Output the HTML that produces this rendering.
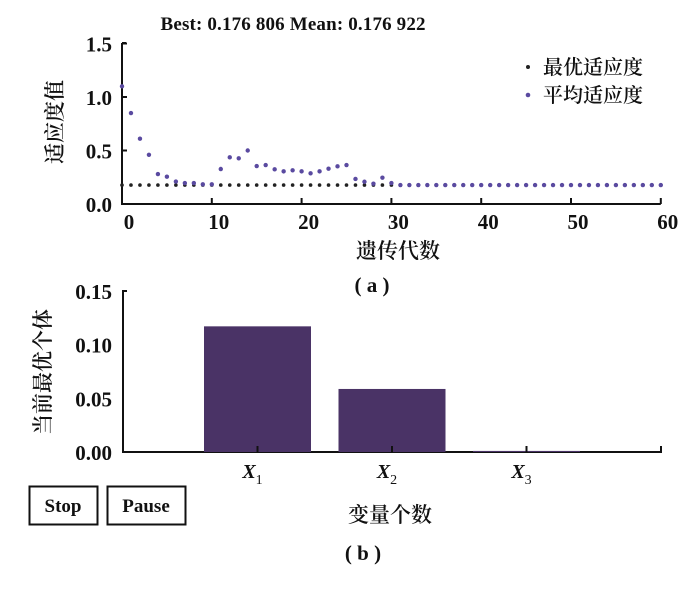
<!DOCTYPE html>
<html><head><meta charset="utf-8"><style>
body{margin:0;background:#fff}
text{font-family:"Liberation Serif","Noto Serif CJK SC",serif;fill:#111}
.cjk{font-weight:600}
</style></head><body>
<svg id="c" width="700" height="589" viewBox="0 0 700 589" xmlns="http://www.w3.org/2000/svg">
<text x="293" y="30" font-size="19" font-weight="bold" text-anchor="middle" textLength="265">Best: 0.176 806 Mean: 0.176 922</text>
<g id="gtop"></g>
<g id="gbot"></g>
<text class="cjk" x="398" y="258" font-size="21" text-anchor="middle">遗传代数</text>
<text x="372" y="292" font-size="21" font-weight="bold" text-anchor="middle">( a )</text>
<text class="cjk" transform="translate(62,122) rotate(-90)" font-size="21" text-anchor="middle">适应度值</text>
<text class="cjk" transform="translate(50,372) rotate(-90)" font-size="21" text-anchor="middle">当前最优个体</text>
<text class="cjk" x="390" y="522" font-size="21" text-anchor="middle">变量个数</text>
<text x="363" y="560" font-size="21" font-weight="bold" text-anchor="middle">( b )</text>
<g><rect x="29.5" y="486.5" width="68" height="38" fill="#fff" stroke="#111" stroke-width="2"/><text x="63" y="512" font-size="19" font-weight="bold" text-anchor="middle">Stop</text></g>
<g><rect x="107.5" y="486.5" width="78" height="38" fill="#fff" stroke="#111" stroke-width="2"/><text x="146" y="512" font-size="19" font-weight="bold" text-anchor="middle">Pause</text></g>
<g>
<circle cx="528" cy="67" r="2" fill="#222"/><text class="cjk" x="543" y="74" font-size="20">最优适应度</text>
<circle cx="528" cy="95" r="2.3" fill="#5a4aa0"/><text class="cjk" x="543" y="102" font-size="20">平均适应度</text>
</g>
</svg>
<script>
const generations=[];for(let i=0;i<=60;i++)generations.push(i);
const meanFitness=[1.10,0.85,0.61,0.46,0.28,0.255,0.21,0.196,0.196,0.184,0.184,0.327,0.436,0.427,0.50,0.355,0.364,0.324,0.305,0.315,0.305,0.287,0.305,0.33,0.352,0.364,0.234,0.208,0.19,0.246,0.196,0.177,0.177,0.177,0.177,0.177,0.177,0.177,0.177,0.177,0.177,0.177,0.177,0.177,0.177,0.177,0.177,0.177,0.177,0.177,0.177,0.177,0.177,0.177,0.177,0.177,0.177,0.177,0.177,0.177,0.177];
const bestFitness=generations.map(()=>0.1768);
const xTicksA=[0,10,20,30,40,50,60];
const yTicksA=[0,0.5,1.0,1.5];
const yLabelsA=['0.0','0.5','1.0','1.5'];
const barCats=['X1','X2','X3'];
const barValues=[0.117,0.0587,0.001];
const yTicksB=[0,0.05,0.10,0.15];
const yLabelsB=['0.00','0.05','0.10','0.15'];
const NS='http://www.w3.org/2000/svg';
function mk(p,t,a){const e=document.createElementNS(NS,t);for(const k in a)e.setAttribute(k,a[k]);p.appendChild(e);return e;}
const gTop=document.getElementById('gtop'),gBot=document.getElementById('gbot');
const xA=v=>122+v*8.98, yA=v=>204-v*107;
let e=mk(gTop,'path',{d:`M122,43 V204 H${xA(60)}`,fill:'none',stroke:'#111','stroke-width':2});


mk(gTop,'line',{x1:122,x2:126,y1:43,y2:43,stroke:'#111','stroke-width':2});
xTicksA.forEach(t=>{mk(gTop,'line',{x1:xA(t),x2:xA(t),y1:204,y2:198,stroke:'#111','stroke-width':2});
 e=mk(gTop,'text',{x:xA(t)+7,y:229,'font-size':21,'font-weight':'bold','text-anchor':'middle'});e.textContent=t;
 
 });
yTicksA.forEach((t,i)=>{mk(gTop,'line',{x1:122,x2:127,y1:yA(t),y2:yA(t),stroke:'#111','stroke-width':2});
 e=mk(gTop,'text',{x:112,y:yA(t)+8,'font-size':21,'font-weight':'bold','text-anchor':'end'});e.textContent=yLabelsA[i];
 
 });
generations.forEach((g,i)=>{e=mk(gTop,'circle',{cx:xA(g),cy:yA(bestFitness[i]),r:1.8,fill:'#222'});
 
 });
generations.forEach((g,i)=>{e=mk(gTop,'circle',{cx:xA(g),cy:yA(meanFitness[i]),r:2.2,fill:'#5a4aa0'});
 
 });
const xB=v=>123+v*134.5, yB=v=>452-v*1074;
e=mk(gBot,'path',{d:`M127,291 H123 V452 H661 V446`,fill:'none',stroke:'#111','stroke-width':2});


yTicksB.forEach((t,i)=>{e=mk(gBot,'text',{x:112,y:yB(t)+8,'font-size':21,'font-weight':'bold','text-anchor':'end'});e.textContent=yLabelsB[i];
 
 });
barCats.forEach((c,i)=>{const cx=xB(i+1),h=Math.max(1,452-yB(barValues[i]));
 e=mk(gBot,'rect',{x:cx-53.5,y:452-h,width:107,height:h,fill:'#4a3366'});
 
 
 mk(gBot,'line',{x1:cx,x2:cx,y1:452,y2:446,stroke:'#111','stroke-width':2});
 e=mk(gBot,'text',{x:cx-5,y:478,'font-size':20,'font-style':'italic','font-weight':'bold','text-anchor':'middle'});
 e.innerHTML=c[0]+'<tspan font-size="14" dy="6" font-style="normal" font-weight="normal">'+c.slice(1)+'</tspan>';
 
 });
</script>
</body></html>
